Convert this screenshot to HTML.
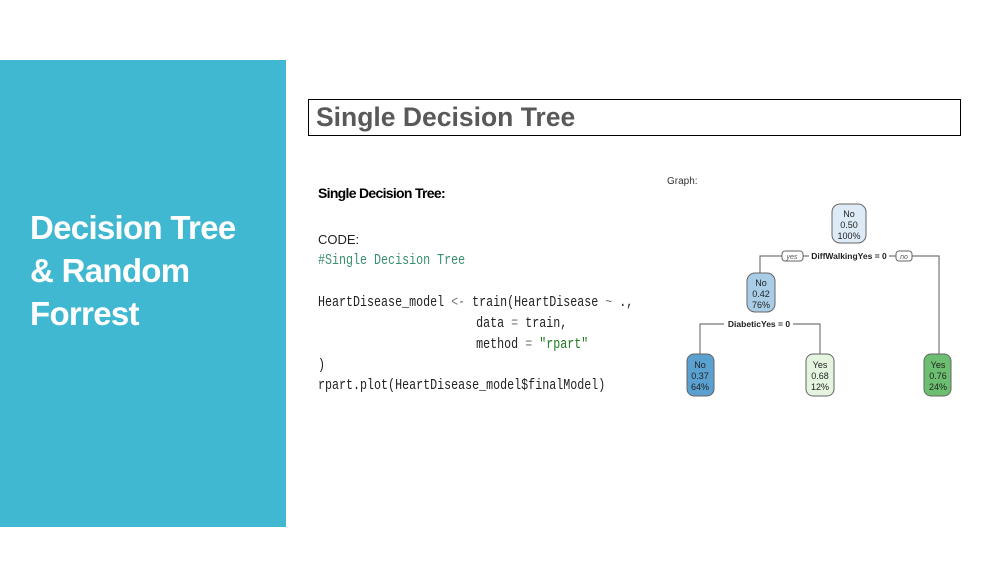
<!DOCTYPE html>
<html><head><meta charset="utf-8"><style>
body{margin:0;width:998px;height:576px;background:#fff;position:relative;overflow:hidden;font-family:"Liberation Sans",sans-serif}
.side{position:absolute;left:0;top:60px;width:286px;height:467px;background:#41b8d1}
.side div{position:absolute;left:30px;color:#fff;font-weight:bold;font-size:33px;letter-spacing:-0.7px;white-space:nowrap}
.box{position:absolute;left:308px;top:99px;width:651px;height:35px;border:1px solid #000}
.box span{position:absolute;left:7px;top:2px;font-size:26.5px;font-weight:bold;color:#595959}
.t{position:absolute;white-space:nowrap}
.c{position:absolute;left:318px;white-space:pre;font-family:"Liberation Mono",monospace;font-size:14.6px;transform:scaleX(0.8);transform-origin:0 0;color:#222}
</style></head><body>
<div class="side">
<div style="top:149px">Decision Tree</div>
<div style="top:192px">&amp; Random</div>
<div style="top:235px">Forrest</div>
</div>
<div class="box"><span>Single Decision Tree</span></div>
<div class="t" style="left:318px;top:185px;font-size:14px;font-weight:bold;letter-spacing:-0.7px">Single Decision Tree:</div>
<div class="t" style="left:318px;top:232px;font-size:13px;color:#222">CODE:</div>
<div class="c" style="top:253px;color:#3a8f6e">#Single Decision Tree</div>
<div class="c" style="top:295px">HeartDisease_model <span style="color:#777">&lt;-</span> train(HeartDisease <span style="color:#777">~</span> .,</div>
<div class="c" style="top:316px;left:322px">                      data <span style="color:#777">=</span> train,</div>
<div class="c" style="top:337px;left:322px">                      method <span style="color:#777">=</span> <span style="color:#1a7a1a">"rpart"</span></div>
<div class="c" style="top:358px">)</div>
<div class="c" style="top:378px">rpart.plot(HeartDisease_model$finalModel)</div>
<div class="t" style="left:667px;top:176px;font-size:10px;color:#333">Graph:</div>
<svg style="position:absolute;left:0;top:0" width="998" height="576" font-family="Liberation Sans,sans-serif">
<g stroke="#777" fill="none" stroke-width="1.2">
<path d="M760 273V256H782M803 256H809M889 256H896M912 256H939V354"/>
<path d="M700 354V324H724M793 324H820V354"/>
</g>
<g stroke="#666" stroke-width="1">
<rect x="832" y="204" width="34" height="39" rx="8" fill="#deebf7"/>
<rect x="747" y="273" width="28" height="39" rx="8" fill="#a9cde6"/>
<rect x="687" y="354" width="27" height="42" rx="7" fill="#5aa0d0"/>
<rect x="806" y="354" width="28" height="42" rx="7" fill="#e4f4df"/>
<rect x="924" y="354" width="27" height="42" rx="7" fill="#6cbf70"/>
<rect x="782" y="251" width="21" height="10" rx="3" fill="#fff"/>
<rect x="896" y="251" width="16" height="10" rx="3" fill="#fff"/>
</g>
<g font-size="9" fill="#222" text-anchor="middle">
<text x="849" y="217">No</text><text x="849" y="228">0.50</text><text x="849" y="239">100%</text>
<text x="761" y="286">No</text><text x="761" y="297">0.42</text><text x="761" y="308">76%</text>
<text x="700" y="368">No</text><text x="700" y="379">0.37</text><text x="700" y="390">64%</text>
<text x="820" y="368">Yes</text><text x="820" y="379">0.68</text><text x="820" y="390">12%</text>
<text x="938" y="368">Yes</text><text x="938" y="379">0.76</text><text x="938" y="390">24%</text>
<text x="849" y="259" font-weight="bold" font-size="8.5">DiffWalkingYes = 0</text>
<text x="759" y="327" font-weight="bold" font-size="8.5">DiabeticYes = 0</text>
<text x="792" y="259" font-size="7" font-style="italic" fill="#555">yes</text>
<text x="904" y="259" font-size="7" font-style="italic" fill="#555">no</text>
</g>
</svg>
</body></html>
